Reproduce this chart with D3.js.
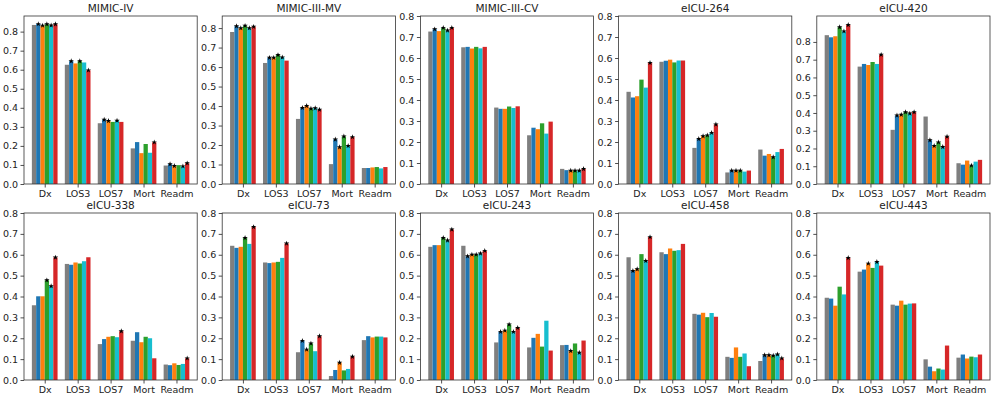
<!DOCTYPE html>
<html><head><meta charset="utf-8">
<script src="https://cdn.jsdelivr.net/npm/d3@7"></script>
<style>body{margin:0;background:#fff}svg{display:block}text{font-family:"DejaVu Sans",sans-serif}</style>
</head><body><svg id="c" width="997" height="399"></svg>
<script>
const categories = ["Dx","LOS3","LOS7","Mort","Readm"];
const seriesColors = ["#7f7f7f","#1f77b4","#ff7f0e","#2ca02c","#17becf","#d62728"];
const titles = ["MIMIC-IV","MIMIC-III-MV","MIMIC-III-CV","eICU-264","eICU-420","eICU-338","eICU-73","eICU-243","eICU-458","eICU-443"];
const yTicks = [0,0.1,0.2,0.3,0.4,0.5,0.6,0.7,0.8];
const yMax = [0.882,0.862,0.8,0.8,0.946,0.8,0.8,0.8,0.8,0.8];
// values[panel][category][series]
const values = [
 [[0.835,0.840,0.832,0.839,0.833,0.839],[0.626,0.645,0.633,0.645,0.638,0.597],[0.319,0.338,0.331,0.326,0.333,0.326],[0.187,0.220,0.162,0.210,0.164,0.219],[0.097,0.104,0.095,0.099,0.093,0.109]],
 [[0.780,0.810,0.800,0.812,0.800,0.807],[0.621,0.648,0.648,0.662,0.650,0.633],[0.334,0.391,0.401,0.387,0.389,0.382],[0.102,0.229,0.189,0.244,0.196,0.241],[0.082,0.082,0.085,0.087,0.080,0.087]],
 [[0.726,0.737,0.728,0.744,0.731,0.744],[0.651,0.653,0.645,0.653,0.646,0.653],[0.364,0.358,0.358,0.369,0.362,0.370],[0.232,0.268,0.261,0.289,0.240,0.297],[0.072,0.066,0.064,0.064,0.064,0.072]],
 [[0.439,0.412,0.418,0.497,0.459,0.577],[0.582,0.587,0.592,0.579,0.588,0.588],[0.172,0.215,0.228,0.232,0.244,0.284],[0.055,0.064,0.064,0.064,0.059,0.064],[0.164,0.135,0.143,0.128,0.152,0.167]],
 [[0.838,0.826,0.832,0.883,0.860,0.896],[0.661,0.676,0.670,0.687,0.676,0.728],[0.305,0.386,0.390,0.405,0.397,0.405],[0.380,0.247,0.215,0.235,0.209,0.267],[0.117,0.109,0.132,0.104,0.126,0.136]],
 [[0.358,0.401,0.401,0.478,0.450,0.587],[0.556,0.552,0.563,0.558,0.569,0.588],[0.172,0.196,0.207,0.210,0.205,0.234],[0.188,0.229,0.181,0.207,0.200,0.104],[0.074,0.071,0.080,0.072,0.077,0.104]],
 [[0.643,0.633,0.638,0.681,0.652,0.733],[0.563,0.560,0.563,0.566,0.585,0.654],[0.133,0.188,0.146,0.175,0.138,0.210],[0.019,0.048,0.083,0.046,0.053,0.112],[0.191,0.210,0.204,0.208,0.208,0.204]],
 [[0.638,0.646,0.646,0.681,0.669,0.721],[0.643,0.593,0.601,0.601,0.606,0.619],[0.180,0.231,0.237,0.266,0.231,0.250],[0.156,0.202,0.221,0.160,0.284,0.141],[0.167,0.168,0.139,0.175,0.131,0.189]],
 [[0.588,0.523,0.531,0.603,0.571,0.685],[0.612,0.603,0.630,0.619,0.622,0.652],[0.317,0.313,0.322,0.301,0.321,0.303],[0.111,0.106,0.156,0.111,0.127,0.066],[0.091,0.119,0.119,0.117,0.123,0.104]],
 [[0.394,0.390,0.356,0.447,0.410,0.585],[0.519,0.529,0.558,0.537,0.566,0.548],[0.361,0.356,0.380,0.361,0.366,0.367],[0.099,0.064,0.042,0.055,0.050,0.165],[0.107,0.122,0.103,0.112,0.109,0.122]]
];
// significance stars: stars[panel][category] = list of series indices
const stars = [
 [[1,2,3,4,5],[1,3,5],[1,2,4],[5],[1,2,4,5]],
 [[1,2,3,4,5],[1,2,3,4],[1,2,3,4,5],[1,2,3,4,5],[]],
 [[1,3,4,5],[],[],[],[2,3,4,5]],
 [[5],[],[1,2,3,4,5],[1,2,3],[3]],
 [[3,4,5],[5],[1,2,3,4,5],[1,2,3,4,5],[3]],
 [[3,4,5],[],[5],[],[5]],
 [[3,5],[5],[1,2,3,5],[2,5],[]],
 [[3,4,5],[1,2,3,4,5],[1,2,3,4,5],[],[2,4]],
 [[1,2,4,5],[],[],[],[1,2,3,4,5]],
 [[5],[2,4],[],[],[]]
];

const svg = d3.select("#c");
const W = 173.2, colStep = 198.2, left0 = 24;
const rows = [{top:16,bottom:184},{top:213,bottom:380}];
const bw = 0.13, nS = seriesColors.length;

titles.forEach((t,p)=>{
  const r = rows[Math.floor(p/5)], c = p%5;
  const x0 = left0 + c*colStep;
  const g = svg.append("g").attr("transform",`translate(${x0},${r.top})`);
  const h = r.bottom - r.top;
  const half = bw*nS/2;
  const span = 4 + 2*half;
  const x = d3.scaleLinear().domain([-half-0.05*span, 4+half+0.05*span]).range([0,W]);
  const y = d3.scaleLinear().domain([0,yMax[p]]).range([h,0]);
  categories.forEach((cat,ci)=>{
    values[p][ci].forEach((v,si)=>{
      const xl = x(ci - half + si*bw);
      g.append("rect").attr("x",xl).attr("width",x(bw)-x(0)).attr("y",y(v)).attr("height",h-y(v)).attr("fill",seriesColors[si]);
    });
  });
  categories.forEach((cat,ci)=>{
    stars[p][ci].forEach(si=>{
      const v = values[p][ci][si];
      g.append("path").attr("d",d3.symbol(d3.symbolStar,9)()).attr("transform",`translate(${x(ci - half + (si+0.5)*bw)},${y(v)})`).attr("fill","#000");
    });
  });
  const ya = d3.axisLeft(y).tickValues(yTicks).tickFormat(d3.format(".1f")).tickSize(3.5).tickPadding(2.5);
  const ga = g.append("g").call(ya);
  const xa = d3.axisBottom(x).tickValues(d3.range(5)).tickFormat(i=>categories[i]).tickSize(3.5).tickPadding(2.5);
  const gx = g.append("g").attr("transform",`translate(0,${h})`).call(xa);
  [ga,gx].forEach(a=>{a.select(".domain").remove();a.selectAll("line").attr("stroke","#222").attr("stroke-width",0.8);a.selectAll("text").attr("fill","#222").style("font-size","9.5px").style("font-family","DejaVu Sans");});
  g.append("rect").attr("width",W).attr("height",h).attr("fill","none").attr("stroke","#333").attr("stroke-width",0.8);
  g.append("text").attr("x",W/2).attr("y",-4).attr("text-anchor","middle").style("font-size","10.5px").attr("fill","#222").text(t);
});
</script></body></html>
